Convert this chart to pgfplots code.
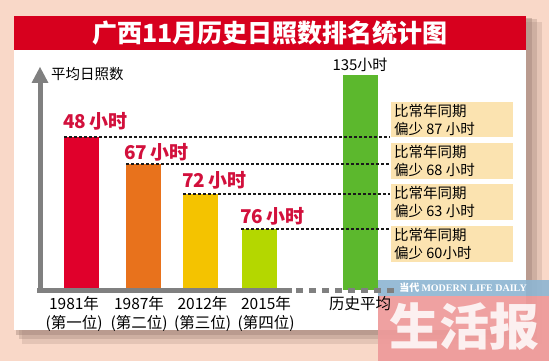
\documentclass[border=0pt]{standalone}
\usepackage{fontspec}
\usepackage{pgfplots}
\pgfplotsset{compat=1.18}
\setmainfont{Noto Sans CJK SC}
\newfontfamily\lserif{Liberation Serif}
\definecolor{bgpeach}{HTML}{F9D8C8}
\definecolor{shadowc}{HTML}{9C7F74}
\definecolor{titlered}{HTML}{D7001E}
\definecolor{bred}{HTML}{E0002B}
\definecolor{borange}{HTML}{E8721C}
\definecolor{byellow}{HTML}{F4C300}
\definecolor{blime}{HTML}{B4D700}
\definecolor{bgreen}{HTML}{5CB82D}
\definecolor{boxc}{HTML}{FBE3B0}
\definecolor{labred}{HTML}{D2103C}
\definecolor{axgrey}{HTML}{808080}
\definecolor{wmblue}{HTML}{8DB5D2}
\definecolor{wmpink}{HTML}{EE9A9A}
\begin{document}
\begin{tikzpicture}[x=1pt,y=1pt]
\path[use as bounding box] (0,-71) rectangle (549,290);
\fill[bgpeach] (0,-71) rectangle (549,290);
% card shadow
\fill[shadowc, opacity=0.22] (22,268) rectangle (542,-54);
\fill[shadowc, opacity=0.3] (19,271) rectangle (537,-49);
\fill[shadowc, opacity=0.4] (16,272) rectangle (532,-45);
\fill[white] (14,274) rectangle (526,-40);
\fill[titlered] (14,274) rectangle (526,240);
\node[text=white, font=\fontsize{25}{25}\selectfont\bfseries, inner sep=0pt] at (270,257) {广西11月历史日照数排名统计图};
% watermark
\fill[wmblue, opacity=0.9] (378,10) rectangle (549,-6);
\fill[wmpink, opacity=0.92] (378,-6) rectangle (549,-71);
\node[text=white, inner sep=0pt] at (463,2) {{\fontsize{10}{10}\selectfont\bfseries 当代} {\lserif\fontsize{10}{10}\selectfont\bfseries MODERN LIFE DAILY}};
\node[text=white, opacity=0.85, inner sep=0pt, font=\fontsize{50}{50}\selectfont\bfseries] at (464,-37) {生活报};
\begin{axis}[at={(0,-71)}, anchor=south west, x=1pt, y=1pt,
  xmin=0, xmax=549, ymin=-71, ymax=290,
  axis x line*=middle, axis y line*=none,
  axis line style={draw=none}, ytick=\empty,
  xtick={74,139,202.5,266,360},
  xticklabels={{1981年\\(第一位)},{1987年\\(第二位)},{2012年\\(第三位)},{2015年\\(第四位)},{历史平均}},
  major tick length=0pt,
  xticklabel style={font=\fontsize{15.5}{19}\selectfont, align=center, anchor=north, inner sep=0pt, yshift=-6pt},
  clip=false]
% bars (display heights in px above baseline)
\addplot[ybar, bar width=35pt, bar shift=0pt, fill=bred, draw=none] coordinates {(81.5,153)};
\addplot[ybar, bar width=35pt, bar shift=0pt, fill=borange, draw=none] coordinates {(143,126)};
\addplot[ybar, bar width=35pt, bar shift=0pt, fill=byellow, draw=none] coordinates {(200.5,96)};
\addplot[ybar, bar width=35pt, bar shift=0pt, fill=blime, draw=none] coordinates {(259,61)};
\addplot[ybar, bar width=35pt, bar shift=0pt, fill=bgreen, draw=none] coordinates {(360,215)};
% axes
\draw[axgrey, line width=5pt] (37,-0.5) -- (292,-0.5);
\draw[axgrey, line width=5pt, dash pattern=on 7pt off 6pt] (296,-0.5) -- (400,-0.5);
\draw[axgrey, line width=5pt] (40,-3) -- (40,209);
\fill[axgrey] (31.5,207) -- (48.5,207) -- (40,223) -- cycle;
% dashed reference lines
\addplot[black!90, line width=1.1pt, dash pattern=on 3pt off 2pt] coordinates {(64,153) (390,153)};
\addplot[black!90, line width=1.1pt, dash pattern=on 3pt off 2pt] coordinates {(126,126) (390,126)};
\addplot[black!90, line width=1.1pt, dash pattern=on 3pt off 2pt] coordinates {(183,96) (390,96)};
\addplot[black!90, line width=1.1pt, dash pattern=on 3pt off 2pt] coordinates {(241,61) (390,61)};
% value labels
\node[anchor=west, text=labred, font=\fontsize{19}{19}\selectfont\bfseries, inner sep=0pt] at (63,168.5) {48\,小时};
\node[anchor=west, text=labred, font=\fontsize{19}{19}\selectfont\bfseries, inner sep=0pt] at (124,137.5) {67\,小时};
\node[anchor=west, text=labred, font=\fontsize{19}{19}\selectfont\bfseries, inner sep=0pt] at (182,109.5) {72\,小时};
\node[anchor=west, text=labred, font=\fontsize{19}{19}\selectfont\bfseries, inner sep=0pt] at (240,73.5) {76\,小时};
\node[font=\fontsize{15}{15}\selectfont, inner sep=0pt] at (360,225) {135小时};
\node[anchor=west, font=\fontsize{14.5}{14.5}\selectfont, inner sep=0pt] at (51,216) {平均日照数};
% boxes
\fill[boxc] (391,188) rectangle (513,153);
\fill[boxc] (391,147) rectangle (513,111);
\fill[boxc] (391,106) rectangle (513,70);
\fill[boxc] (391,64) rectangle (513,28);
\node[anchor=west, align=left, font=\fontsize{14.5}{18}\selectfont, inner sep=0pt] at (394,170.5) {比常年同期\\偏少 87 小时};
\node[anchor=west, align=left, font=\fontsize{14.5}{18}\selectfont, inner sep=0pt] at (394,129) {比常年同期\\偏少 68 小时};
\node[anchor=west, align=left, font=\fontsize{14.5}{18}\selectfont, inner sep=0pt] at (394,88) {比常年同期\\偏少 63 小时};
\node[anchor=west, align=left, font=\fontsize{14.5}{18}\selectfont, inner sep=0pt] at (394,46) {比常年同期\\偏少 60小时};
\end{axis}
\end{tikzpicture}
\end{document}
